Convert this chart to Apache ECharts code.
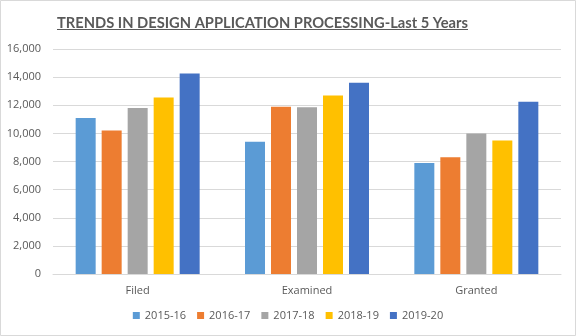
<!DOCTYPE html>
<html><head><meta charset="utf-8">
<script src="https://cdn.jsdelivr.net/npm/echarts@6/dist/echarts.min.js"></script>
<style>html,body{margin:0;padding:0;background:#fff}#c{width:576px;height:336px}</style>
</head><body><div id="c"></div>
<script>
const categories = ['Filed', 'Examined', 'Granted'];
const years = ['2015-16', '2016-17', '2017-18', '2018-19', '2019-20'];
const v2015 = [11100, 9400, 7900];
const v2016 = [10200, 11900, 8300];
const v2017 = [11800, 11850, 10000];
const v2018 = [12550, 12700, 9500];
const v2019 = [14250, 13600, 12250];
const yTicks = [0, 2000, 4000, 6000, 8000, 10000, 12000, 14000, 16000];
const colors = ['#5B9BD5', '#ED7D31', '#A5A5A5', '#FFC000', '#4472C4'];
const seriesValues = [v2015, v2016, v2017, v2018, v2019];
const titleText = 'TRENDS IN DESIGN APPLICATION PROCESSING-Last 5 Years';

const titleSize = 14.7;
const titleLeft = 57;

const chart = echarts.init(document.getElementById('c'), null, {renderer: 'canvas'});
const font = 'Open Sans';
function draw() {
  const ctx2 = document.createElement('canvas').getContext('2d');
  ctx2.font = 'bold ' + titleSize + 'px Lato';
  const w = ctx2.measureText(titleText).width;
  chart.setOption({
    animation: false,
    backgroundColor: '#fff',
    color: colors,
    title: {
      text: titleText,
      left: titleLeft - 5, top: 11,
      textStyle: {fontFamily: 'Lato', fontWeight: 'bold', fontSize: titleSize, color: '#595959'}
    },
    graphic: [
      {type: 'rect', shape: {x: 0.5, y: 0.5, width: 575, height: 335}, style: {fill: 'none', stroke: '#d9d9d9', lineWidth: 1}, silent: true},
      {type: 'line', shape: {x1: titleLeft, y1: 29.5, x2: Math.round(titleLeft + w), y2: 29.5}, style: {stroke: '#595959', lineWidth: 1}, silent: true}
    ],
    legend: {
      bottom: 10, left: 'center',
      itemWidth: 7, itemHeight: 7, itemGap: 11,
      icon: 'rect',
      textStyle: {fontFamily: font, fontSize: 11, color: '#595959'},
      data: years
    },
    grid: {left: 53, right: 15, top: 49, bottom: 62, containLabel: false},
    xAxis: {
      type: 'category', data: categories,
      axisLine: {lineStyle: {color: '#d9d9d9'}},
      axisTick: {show: false},
      axisLabel: {fontFamily: font, fontSize: 11, color: '#595959', margin: 11}
    },
    yAxis: {
      type: 'value', min: yTicks[0], max: yTicks[yTicks.length - 1], interval: 2000,
      axisLine: {show: false}, axisTick: {show: false},
      splitLine: {lineStyle: {color: '#d9d9d9'}},
      axisLabel: {fontFamily: font, fontSize: 11, color: '#595959', margin: 12,
        formatter: v => v.toLocaleString('en-US')}
    },
    series: years.map((y, i) => ({
      name: y, type: 'bar', data: seriesValues[i],
      barWidth: 20, barGap: '30%',
      itemStyle: {color: colors[i]}
    }))
  });
}
if (document.fonts && document.fonts.load) {
  document.fonts.load('bold ' + titleSize + 'px Lato').then(draw, draw);
} else { draw(); }
</script></body></html>
